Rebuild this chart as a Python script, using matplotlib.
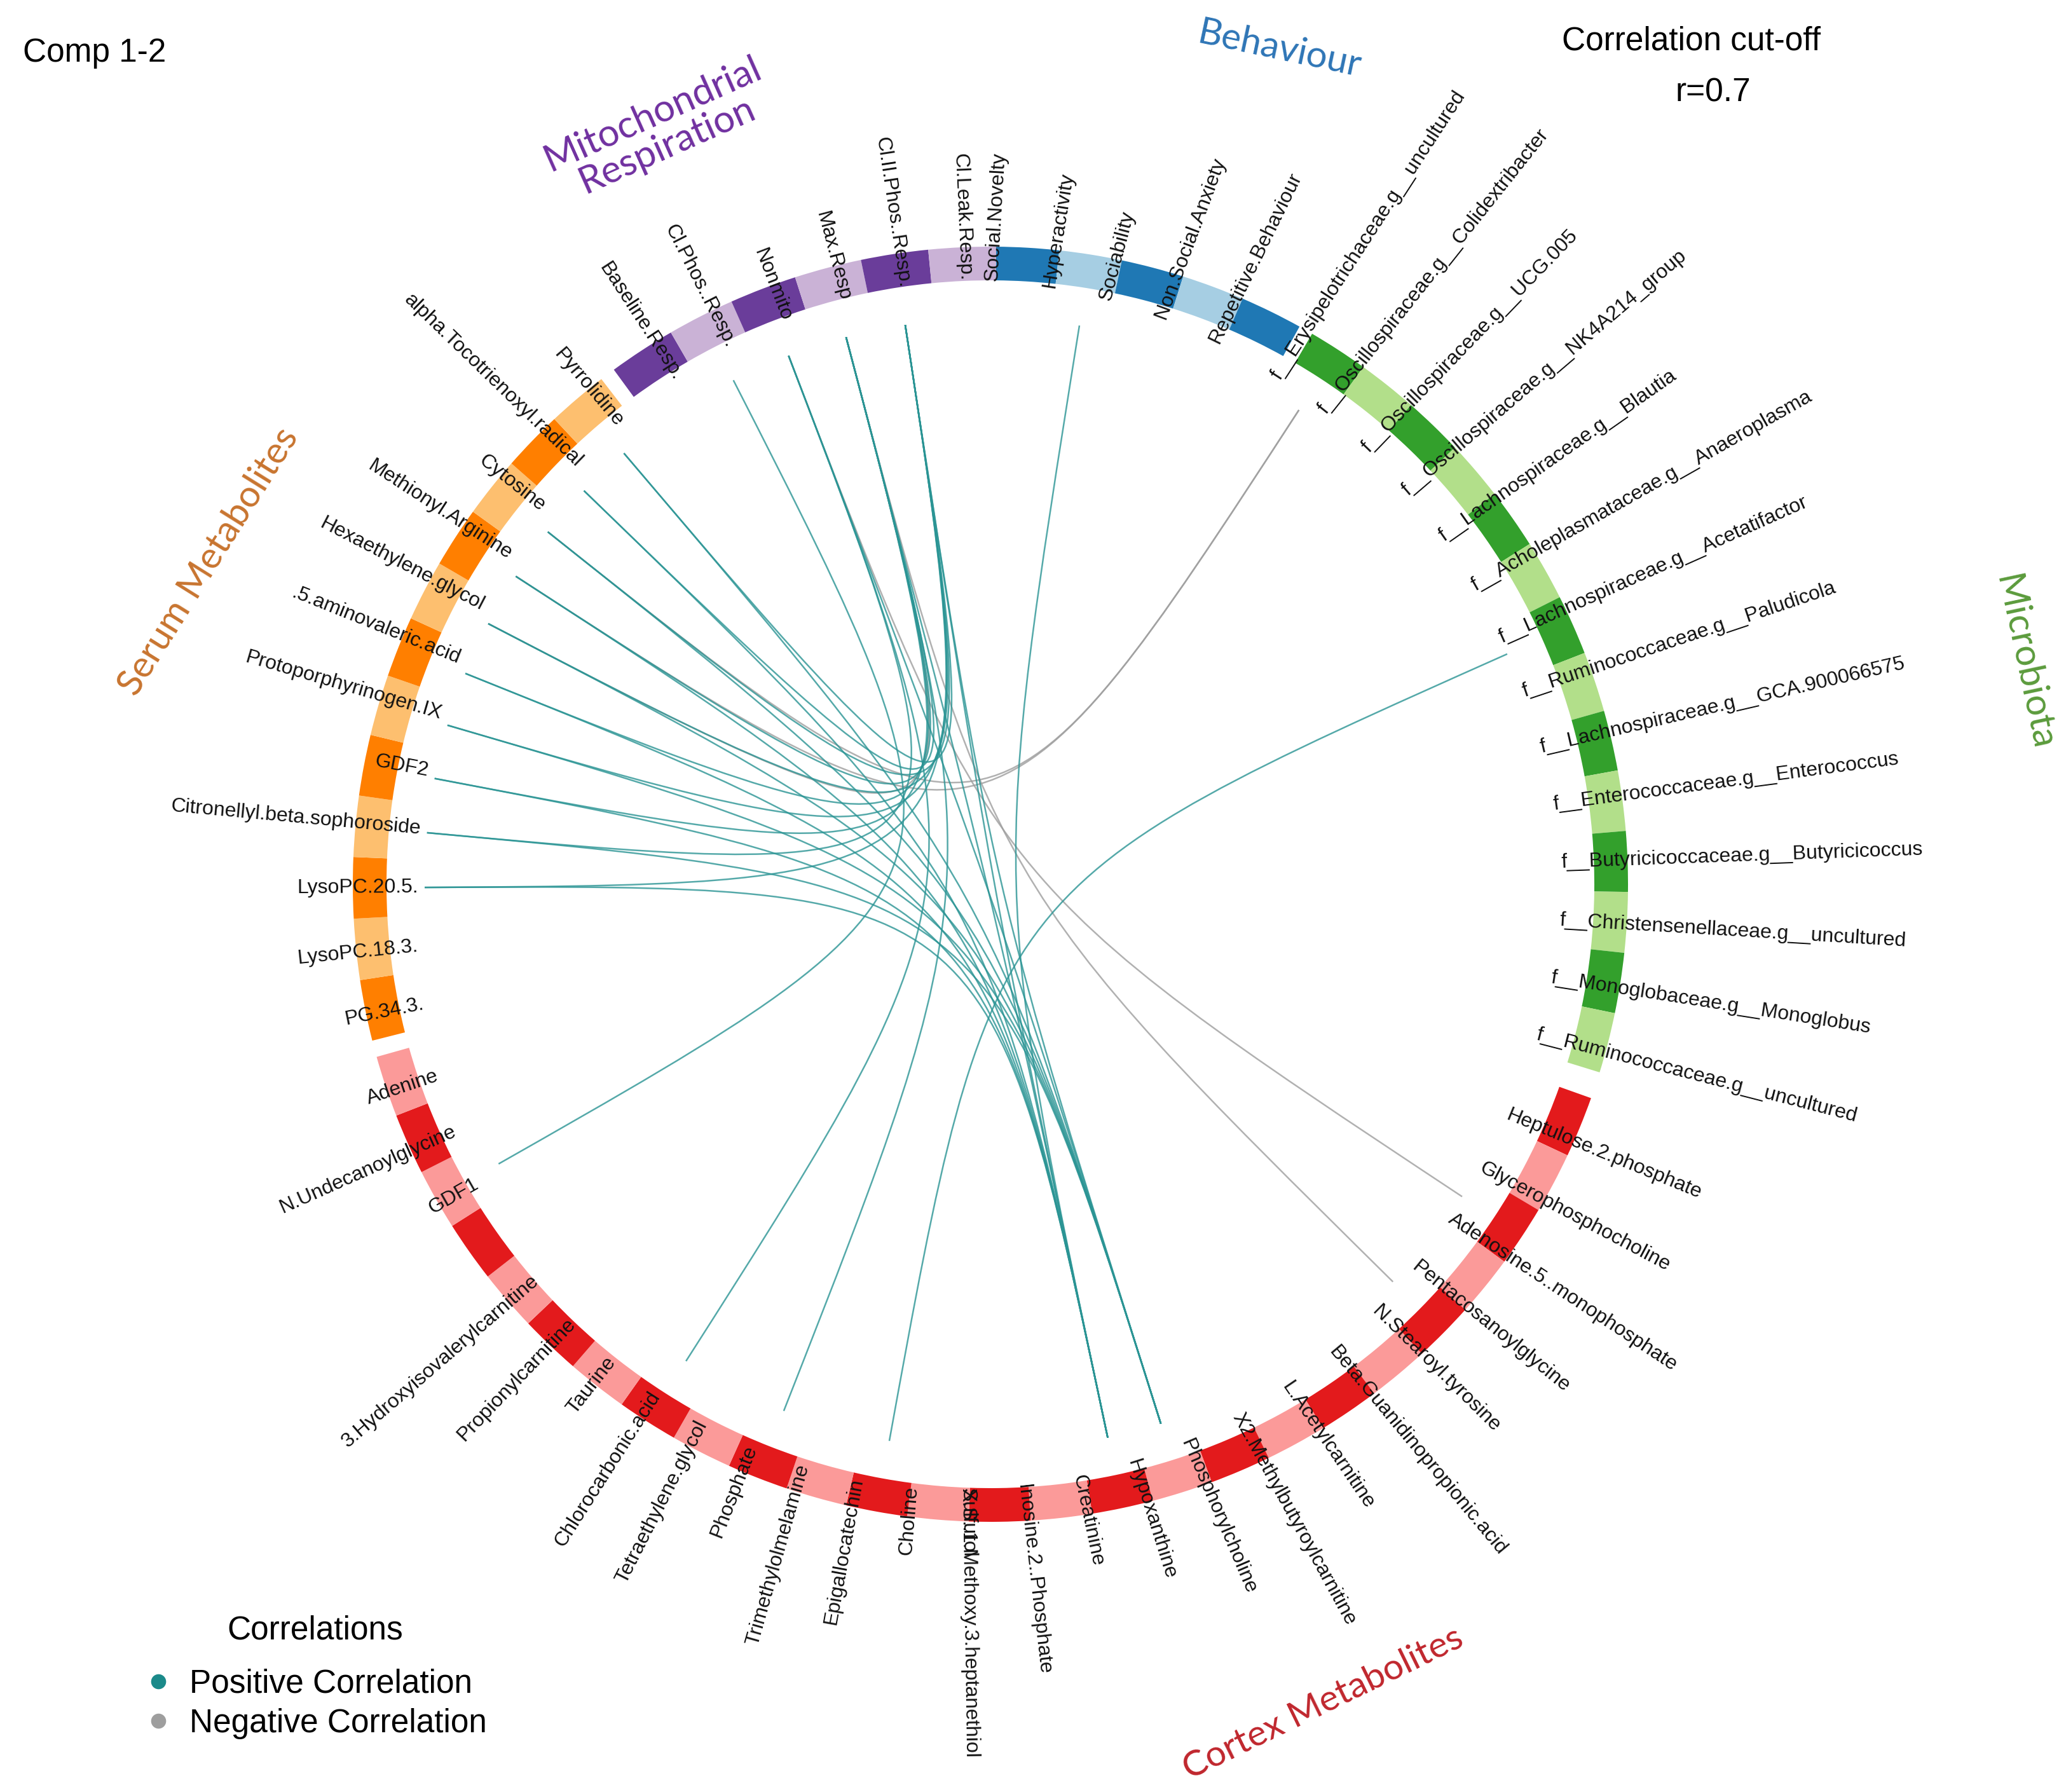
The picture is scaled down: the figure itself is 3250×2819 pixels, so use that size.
import numpy as np
import matplotlib.pyplot as plt
from matplotlib.patches import Wedge, PathPatch
from matplotlib.path import Path

plt.rcParams['font.family'] = ['Liberation Sans', 'DejaVu Sans']

# --- data ---
mito = ["Baseline.Resp.", "Cl.Phos..Resp.", "Nonmito", "Max.Resp",
        "Cl.II.Phos..Resp.", "Cl.Leak.Resp."]
behaviour = ["Social.Novelty", "Hyperactivity", "Sociability",
             "Non.Social.Anxiety", "Repetitive.Behaviour"]
microbiota = ["f__Erysipelotrichaceae.g__uncultured",
              "f__Oscillospiraceae.g__Colidextribacter",
              "f__Oscillospiraceae.g__UCG.005",
              "f__Oscillospiraceae.g__NK4A214_group",
              "f__Lachnospiraceae.g__Blautia",
              "f__Acholeplasmataceae.g__Anaeroplasma",
              "f__Lachnospiraceae.g__Acetatifactor",
              "f__Ruminococcaceae.g__Paludicola",
              "f__Lachnospiraceae.g__GCA.900066575",
              "f__Enterococcaceae.g__Enterococcus",
              "f__Butyricicoccaceae.g__Butyricicoccus",
              "f__Christensenellaceae.g__uncultured",
              "f__Monoglobaceae.g__Monoglobus",
              "f__Ruminococcaceae.g__uncultured"]
cortex = ["Heptulose.2.phosphate", "Glycerophosphocholine",
          "Adenosine.5..monophosphate", "Pentacosanoylglycine",
          "N.Stearoyl.tyrosine", "Beta.Guanidinopropionic.acid",
          "L.Acetylcarnitine", "X2.Methylbutyroylcarnitine",
          "Phosphorylcholine", "Hypoxanthine", "Creatinine",
          "Inosine.2..Phosphate", "X.S..1.Methoxy.3.heptanethiol",
          "Choline", "Epigallocatechin", "Trimethylolmelamine", "Phosphate",
          "Tetraethylene.glycol", "Chlorocarbonic.acid", "Taurine",
          "Propionylcarnitine", "3.Hydroxyisovalerylcarnitine", "Sulfurol",
          "GDF1", "N.Undecanoylglycine", "Adenine"]
serum = ["PG.34.3.", "LysoPC.18.3.", "LysoPC.20.5.",
         "Citronellyl.beta.sophoroside", "GDF2", "Protoporphyrinogen.IX",
         ".5.aminovaleric.acid", "Hexaethylene.glycol", "Methionyl.Arginine",
         "Cytosine", "alpha.Tocotrienoxyl.radical", "Pyrrolidine"]

pos_links = [
    ("Cl.Phos..Resp.", "GDF1"),
    ("Nonmito", "Chlorocarbonic.acid"),
    ("Max.Resp", "Phosphate"),
    ("f__Lachnospiraceae.g__Acetatifactor", "Epigallocatechin"),
    ("Hyperactivity", "Creatinine"),
    ("Cl.II.Phos..Resp.", "Hypoxanthine"),
    ("Cl.II.Phos..Resp.", "Creatinine"),
    ("Max.Resp", "Creatinine"),
    ("Nonmito", "Hypoxanthine"),
    ("LysoPC.20.5.", "Creatinine"),
    ("Citronellyl.beta.sophoroside", "Hypoxanthine"),
    ("GDF2", "Creatinine"),
    ("Protoporphyrinogen.IX", "Hypoxanthine"),
    (".5.aminovaleric.acid", "Creatinine"),
    ("Hexaethylene.glycol", "Hypoxanthine"),
    ("Methionyl.Arginine", "Creatinine"),
    ("Cytosine", "Hypoxanthine"),
    ("alpha.Tocotrienoxyl.radical", "Creatinine"),
    ("Pyrrolidine", "Hypoxanthine"),
    ("Pyrrolidine", "Cl.II.Phos..Resp."),
    ("alpha.Tocotrienoxyl.radical", "Max.Resp"),
    ("Cytosine", "Cl.II.Phos..Resp."),
    ("Methionyl.Arginine", "Max.Resp"),
    ("Hexaethylene.glycol", "Cl.II.Phos..Resp."),
    (".5.aminovaleric.acid", "Max.Resp"),
    ("Protoporphyrinogen.IX", "Cl.II.Phos..Resp."),
    ("GDF2", "Max.Resp"),
    ("Citronellyl.beta.sophoroside", "Nonmito"),
    ("LysoPC.20.5.", "Cl.II.Phos..Resp."),
]
neg_links = [
    ("f__Erysipelotrichaceae.g__uncultured", "Cytosine"),
    ("f__Erysipelotrichaceae.g__uncultured", "Methionyl.Arginine"),
    ("Nonmito", "Adenosine.5..monophosphate"),
    ("Max.Resp", "N.Stearoyl.tyrosine"),
    ("Max.Resp", "Hexaethylene.glycol"),
]

# --- layout ---
W, H = 3250, 2819
CX, CY = 1558, H - 1391
R_OUT, R_IN, R_LINK, R_LAB = 1003, 950, 890, 900

# name, items, start angle (deg, clockwise from top), segment width, colours
blocks = [
    ("Behaviour", behaviour, 0.5, 5.7, "#1f78b4", "#a6cee3"),
    ("Microbiota", microbiota, 30.3, 5.49, "#33a02c", "#b2df8a"),
    ("Cortex", cortex, 109.6, 5.565, "#e31a1c", "#fb9a99"),
    ("Serum", serum, 255.8, 5.55, "#ff7f00", "#fdbf6f"),
    ("Mito", mito, 323.8, 6.12, "#6a3d9a", "#cab2d6"),
]
# in the original this label is printed on top of segment 12 of its block
label_slot = {"Sulfurol": 12}


def pt(theta, r):
    t = np.radians(theta)
    return CX + r * np.sin(t), CY + r * np.cos(t)


fig = plt.figure(figsize=(W / 100, H / 100), dpi=100)
ax = fig.add_axes([0, 0, 1, 1])
ax.set_xlim(0, W)
ax.set_ylim(0, H)
ax.axis('off')

angle_of = {}
for bname, items, start, w, dark, light in blocks:
    for i, name in enumerate(items):
        a0 = start + i * w
        a1 = a0 + w
        angle_of[name] = (a0 + a1) / 2
        ax.add_patch(Wedge((CX, CY), R_OUT, 90 - a1, 90 - a0,
                           width=R_OUT - R_IN, facecolor=dark if i % 2 == 0 else light,
                           edgecolor='none', zorder=2))


def chord(a, b, color):
    p0 = pt(angle_of[a], R_LINK)
    p3 = pt(angle_of[b], R_LINK)
    path = Path([p0, (CX, CY), (CX, CY), p3],
                [Path.MOVETO, Path.CURVE4, Path.CURVE4, Path.CURVE4])
    ax.add_patch(PathPatch(path, facecolor='none', edgecolor=color,
                           lw=1.8, alpha=0.8, zorder=1))


for a, b in neg_links:
    chord(a, b, '#9e9e9e')
for a, b in pos_links:
    chord(a, b, '#2a9494')

# item labels
for bname, items, start, w, dark, light in blocks:
    for i, name in enumerate(items):
        th = start + (label_slot.get(name, i) + 0.5) * w
        x, y = pt(th, R_LAB)
        c = np.cos(np.radians(th))
        if not (270 <= th < 360):
            x -= 50 * abs(c)
        y += 50 * c
        if np.sin(np.radians(th)) >= -1e-9:
            rot, ha = 90 - th, 'left'
        else:
            rot, ha = 270 - th, 'right'
        ax.text(x, y, name, rotation=rot, rotation_mode='anchor', ha=ha,
                va='center', fontsize=23, color='#111111', zorder=3)

# block titles
gfont = ['Lato', 'DejaVu Sans']
ax.text(1038, H - 204, "Mitochondrial\nRespiration", rotation=24, ha='center',
        va='center', fontsize=43, color='#7030a0', family=gfont, linespacing=1.0)
ax.text(2013, H - 78, "Behaviour", rotation=-12, ha='center', va='center',
        fontsize=42, color='#2e75b6', family=gfont)
ax.text(3184, H - 1043, "Microbiota", rotation=-78, ha='center', va='center',
        fontsize=42, color='#5b9b3c', family=gfont)
ax.text(2081, H - 2680, "Cortex Metabolites", rotation=26, ha='center',
        va='center', fontsize=41, color='#c0262d', family=gfont)
ax.text(328, H - 884, "Serum Metabolites", rotation=58, ha='center',
        va='center', fontsize=42, color='#c8742f', family=gfont)

ax.text(36, H - 84, "Comp 1-2", ha='left', va='center', fontsize=37)
ax.text(2661, H - 65, "Correlation cut-off", ha='center', va='center', fontsize=37)
ax.text(2695, H - 146, "r=0.7", ha='center', va='center', fontsize=37)

# legend
ax.text(496, H - 2565, "Correlations", ha='center', va='center', fontsize=37)
ax.plot([249], [H - 2645], 'o', color='#1b8a8a', ms=16)
ax.plot([249], [H - 2707], 'o', color='#9e9e9e', ms=16)
ax.text(298, H - 2649, "Positive Correlation", ha='left', va='center', fontsize=37)
ax.text(298, H - 2711, "Negative Correlation", ha='left', va='center', fontsize=37)

fig.savefig('out.png', dpi=100)
